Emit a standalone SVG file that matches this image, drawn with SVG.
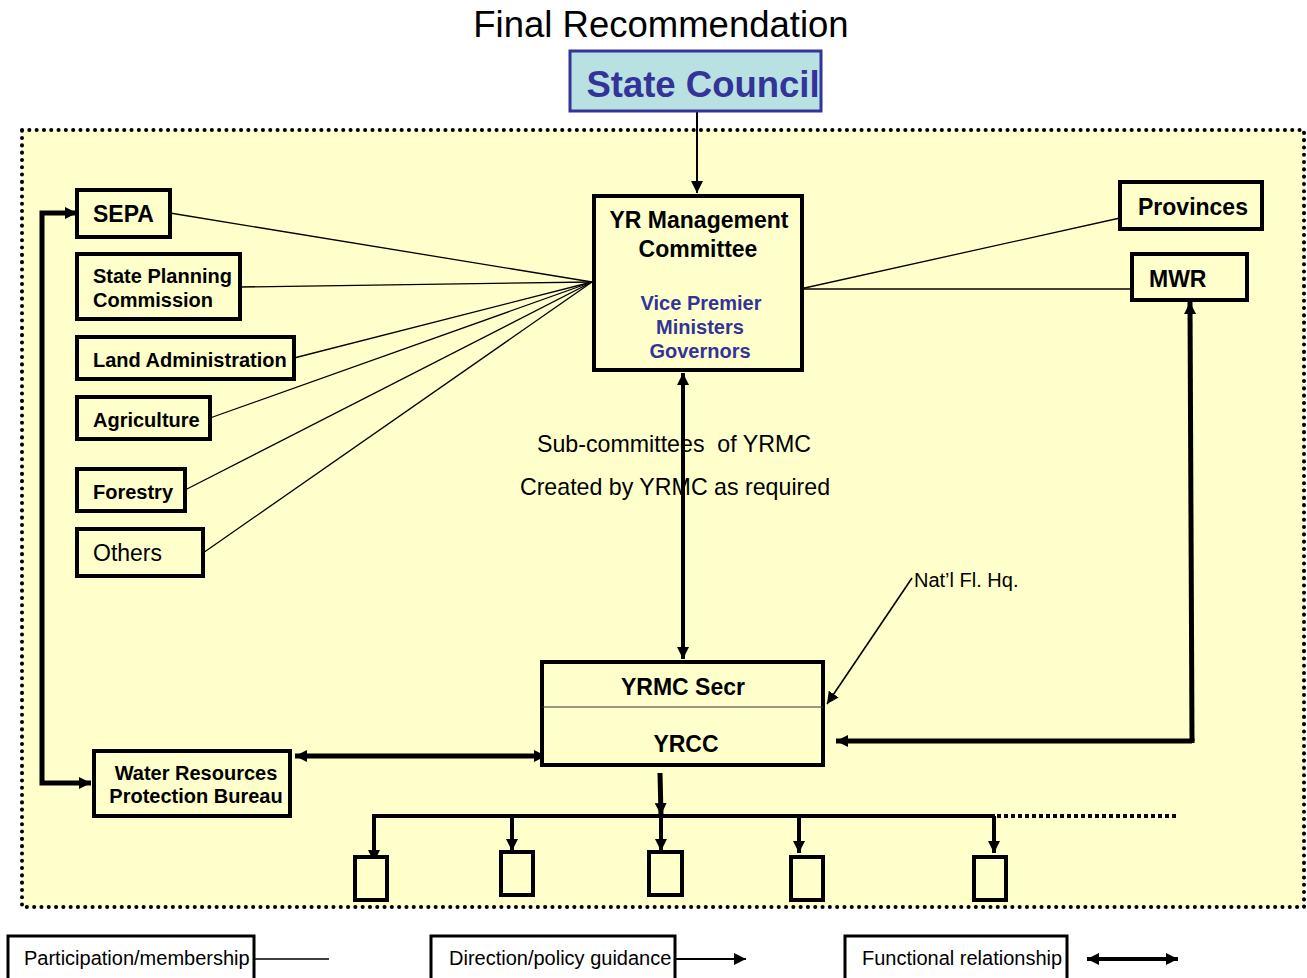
<svg xmlns="http://www.w3.org/2000/svg" width="1307" height="978" viewBox="0 0 1307 978">
<style>
text{font-family:"Liberation Sans",Arial,sans-serif;fill:#000}
.b{font-weight:bold}
.box{fill:#FFFFCC;stroke:#000;stroke-width:4}
.wbox{fill:#fff;stroke:#000;stroke-width:3}
.thin{stroke:#000;stroke-width:1.3;fill:none}
.thick{stroke:#000;stroke-width:5;fill:none}
.blue{fill:#333399}
</style>
<defs>
<marker id="ah" markerUnits="userSpaceOnUse" markerWidth="14" markerHeight="14" refX="12" refY="7" orient="auto">
<path d="M0,1 L12,7 L0,13 Z" fill="#000"/>
</marker>
<marker id="ahs" markerUnits="userSpaceOnUse" markerWidth="14" markerHeight="14" refX="12" refY="7" orient="auto-start-reverse">
<path d="M0,1 L12,7 L0,13 Z" fill="#000"/>
</marker>
</defs>
<rect x="0" y="0" width="1307" height="978" fill="#fff"/>
<rect x="22" y="130" width="1282" height="777" fill="#FFFFCC" stroke="#000" stroke-width="4" stroke-dasharray="0.1 7.2" stroke-linecap="round"/>
<text x="661" y="37" font-size="36.5" text-anchor="middle">Final Recommendation</text>

<g id="connectors">
<line class="thin" x1="170" y1="213" x2="592" y2="282"/>
<line class="thin" x1="240" y1="287" x2="592" y2="282"/>
<line class="thin" x1="294" y1="358" x2="592" y2="282"/>
<line class="thin" x1="210" y1="418" x2="592" y2="282"/>
<line class="thin" x1="185" y1="490" x2="592" y2="282"/>
<line class="thin" x1="203" y1="553" x2="592" y2="282"/>
<line class="thin" x1="800" y1="289" x2="1120" y2="218"/>
<line class="thin" x1="800" y1="289" x2="1132" y2="289"/>
<line stroke="#000" stroke-width="2" x1="697" y1="112" x2="697" y2="193" marker-end="url(#ah)"/>
<line stroke="#000" stroke-width="4" x1="683" y1="373" x2="683" y2="659" marker-start="url(#ahs)" marker-end="url(#ahs)"/>
<line stroke="#000" stroke-width="1.6" x1="912" y1="578" x2="827" y2="704" marker-end="url(#ah)"/>
<polyline class="thick" points="1192,741 1190,302" marker-end="url(#ah)"/>
<polyline class="thick" points="1192,743 1192,741 836,741" marker-end="url(#ah)"/>
<polyline class="thick" points="77,213 42,213 42,783 91,783" marker-start="url(#ahs)" marker-end="url(#ahs)"/>
<line class="thick" x1="295" y1="756" x2="546" y2="756" marker-start="url(#ahs)" marker-end="url(#ahs)"/>
<line class="thick" x1="660" y1="773" x2="661" y2="815" marker-end="url(#ah)"/>
<polyline stroke="#000" stroke-width="4" fill="none" points="374,862 374,816 995,816"/>
<line stroke="#000" stroke-width="4" x1="374" y1="816" x2="374" y2="862" marker-end="url(#ah)"/>
<line stroke="#000" stroke-width="4" x1="512" y1="816" x2="512" y2="851" marker-end="url(#ah)"/>
<line stroke="#000" stroke-width="4" x1="661" y1="816" x2="661" y2="851" marker-end="url(#ah)"/>
<line stroke="#000" stroke-width="4" x1="799" y1="816" x2="799" y2="853" marker-end="url(#ah)"/>
<line stroke="#000" stroke-width="4" x1="994" y1="816" x2="994" y2="853" marker-end="url(#ah)"/>
<line stroke="#000" stroke-width="4" x1="997" y1="816" x2="1178" y2="816" stroke-dasharray="4 3"/>
</g>

<g id="state-council">
<rect x="570" y="51" width="251" height="60" fill="#B9E1E1" stroke="#333399" stroke-width="3"/>
<text x="703" y="97" font-size="36.5" text-anchor="middle" class="b blue">State Council</text>
</g>
<g id="yrmc">
<rect class="box" x="594" y="196" width="208" height="174"/>
<text x="699" y="228" font-size="23" text-anchor="middle" class="b">YR Management</text>
<text x="698" y="257" font-size="23" text-anchor="middle" class="b">Committee</text>
<text x="701" y="310" font-size="20" text-anchor="middle" class="b blue">Vice Premier</text>
<text x="700" y="334" font-size="20" text-anchor="middle" class="b blue">Ministers</text>
<text x="700" y="358" font-size="20" text-anchor="middle" class="b blue">Governors</text>
</g>
<g id="sepa"><rect class="box" x="77" y="190" width="93" height="47"/><text x="93" y="222" font-size="23" class="b">SEPA</text></g>
<g id="spc"><rect class="box" x="77" y="254" width="163" height="65"/><text x="93" y="283" font-size="20" class="b">State Planning</text><text x="93" y="307" font-size="20" class="b">Commission</text></g>
<g id="land"><rect class="box" x="77" y="337" width="217" height="42"/><text x="93" y="367" font-size="20" class="b">Land Administration</text></g>
<g id="agri"><rect class="box" x="77" y="397" width="133" height="42"/><text x="93" y="427" font-size="20" class="b">Agriculture</text></g>
<g id="forestry"><rect class="box" x="77" y="469" width="108" height="42"/><text x="93" y="499" font-size="20" class="b">Forestry</text></g>
<g id="others"><rect class="box" x="77" y="529" width="126" height="47"/><text x="93" y="561" font-size="23">Others</text></g>
<g id="provinces"><rect class="box" x="1120" y="182" width="142" height="47"/><text x="1138" y="215" font-size="23" class="b">Provinces</text></g>
<g id="mwr"><rect class="box" x="1132" y="254" width="115" height="46"/><text x="1149" y="287" font-size="23" class="b">MWR</text></g>
<g id="subcommittees">
<text x="674" y="452" font-size="23.2" text-anchor="middle" xml:space="preserve">Sub-committees  of YRMC</text>
<text x="675" y="495" font-size="23.2" text-anchor="middle">Created by YRMC as required</text>
</g>
<g id="natl"><text x="914" y="587" font-size="20">Nat’l Fl. Hq.</text></g>
<g id="yrmc-secr">
<rect class="box" x="542" y="662" width="281" height="103"/>
<line x1="542" y1="707" x2="823" y2="707" stroke="#333" stroke-width="1.2"/>
<text x="683" y="695" font-size="23" text-anchor="middle" class="b">YRMC Secr</text>
<text x="686" y="752" font-size="23" text-anchor="middle" class="b">YRCC</text>
</g>
<g id="wrpb">
<rect class="box" x="94" y="751" width="196" height="65"/>
<text x="196" y="780" font-size="20" text-anchor="middle" class="b">Water Resources</text>
<text x="196" y="803" font-size="20" text-anchor="middle" class="b">Protection Bureau</text>
</g>
<g id="sub1"><rect class="box" x="355" y="857" width="32" height="43"/></g>
<g id="sub2"><rect class="box" x="501" y="852" width="32" height="43"/></g>
<g id="sub3"><rect class="box" x="649" y="852" width="33" height="43"/></g>
<g id="sub4"><rect class="box" x="791" y="857" width="32" height="43"/></g>
<g id="sub5"><rect class="box" x="974" y="857" width="32" height="43"/></g>

<g id="legend">
<rect class="wbox" x="8" y="936" width="246" height="44"/>
<text x="24" y="965" font-size="20">Participation/membership</text>
<line class="thin" x1="254" y1="959" x2="329" y2="959"/>
<rect class="wbox" x="431" y="936" width="244" height="44"/>
<text x="449" y="965" font-size="20">Direction/policy guidance</text>
<line stroke="#000" stroke-width="2" x1="675" y1="959" x2="746" y2="959" marker-end="url(#ah)"/>
<rect class="wbox" x="845" y="936" width="222" height="44"/>
<text x="862" y="965" font-size="20">Functional relationship</text>
<line stroke="#000" stroke-width="4" x1="1087" y1="959" x2="1178" y2="959" marker-start="url(#ahs)" marker-end="url(#ahs)"/>
</g>
</svg>
